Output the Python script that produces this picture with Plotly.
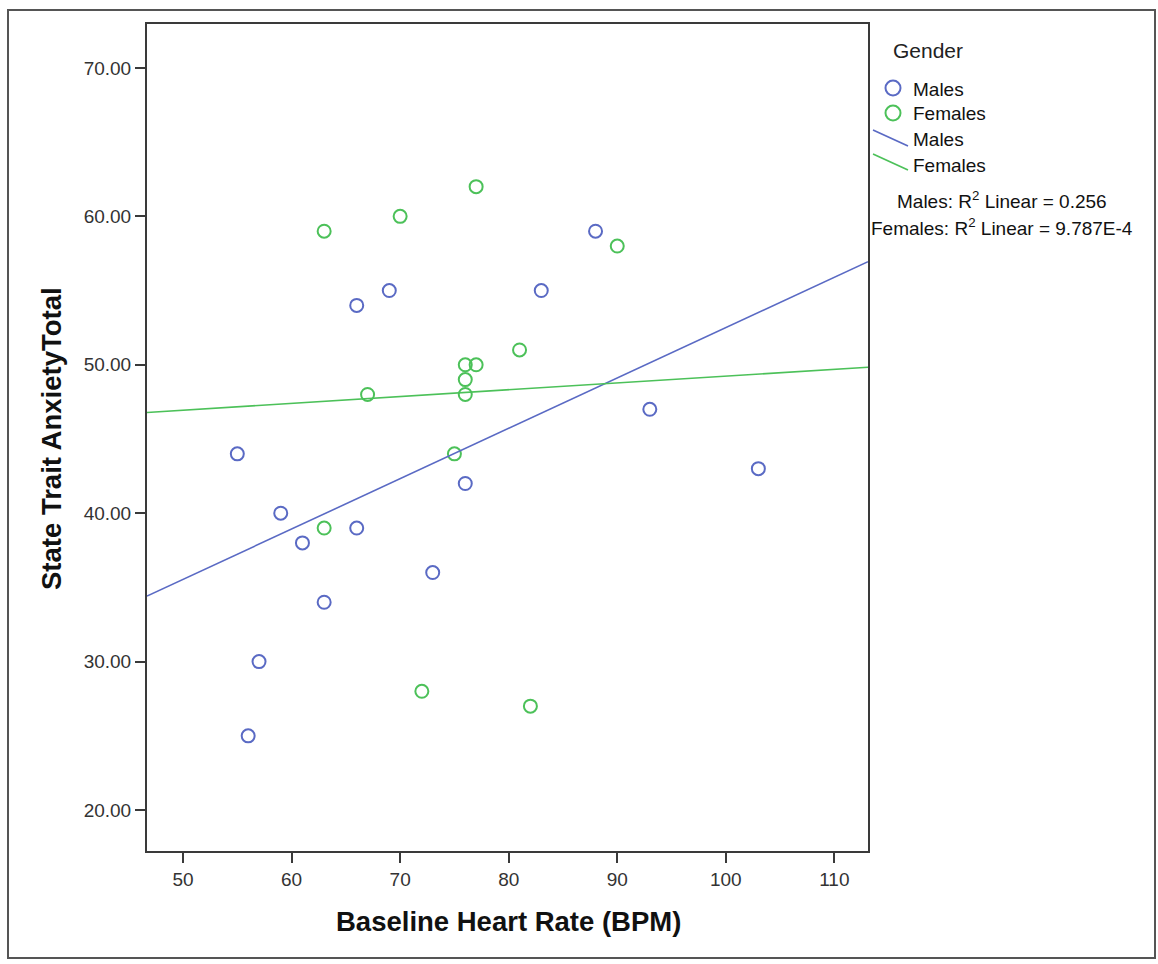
import numpy as np
import plotly.graph_objects as go

# Baseline heart rate (BPM) and State Trait Anxiety total, by gender
males_hr = [55, 56, 57, 59, 61, 63, 66, 66, 69, 73, 76, 83, 88, 93, 103]
males_anx = [44, 25, 30, 40, 38, 34, 54, 39, 55, 36, 42, 55, 59, 47, 43]

females_hr = [63, 63, 67, 70, 72, 75, 76, 76, 76, 77, 77, 81, 82, 90]
females_anx = [59, 39, 48, 60, 28, 44, 50, 49, 48, 50, 62, 51, 27, 58]

x_ticks = [50, 60, 70, 80, 90, 100, 110]
y_ticks = [20, 30, 40, 50, 60, 70]
x_range = [46.68, 113.1]
y_range = [17.24, 72.96]

r2_labels = ["Males: R<sup>2</sup> Linear = 0.256",
             "Females: R<sup>2</sup> Linear = 9.787E-4"]

BLUE = "#5a6ac4"
GREEN = "#4cc159"
AXIS = "#3a3a3a"
FONT = "Arial, Liberation Sans, sans-serif"

# figure geometry (pixels)
FIG_W, FIG_H = 1158, 964
L, R, T, B = 147, 290, 24, 113
PW, PH = FIG_W - L - R, FIG_H - T - B


def px(xp):
    return (xp - L) / PW


def py(yp):
    return (FIG_H - B - yp) / PH


fig = go.Figure()


def fit_line(xs, ys):
    slope, intercept = np.polyfit(xs, ys, 1)
    xx = np.array(x_range)
    return xx, slope * xx + intercept


# scatter points
fig.add_trace(go.Scatter(
    x=males_hr, y=males_anx, mode="markers", name="Males",
    marker=dict(symbol="circle-open", size=13, color=BLUE, line=dict(width=2, color=BLUE)),
    cliponaxis=True))
fig.add_trace(go.Scatter(
    x=females_hr, y=females_anx, mode="markers", name="Females",
    marker=dict(symbol="circle-open", size=13, color=GREEN, line=dict(width=2, color=GREEN)),
    cliponaxis=True))

# linear fit lines
mx, my = fit_line(males_hr, males_anx)
fx, fy = fit_line(females_hr, females_anx)
fig.add_trace(go.Scatter(x=mx, y=my, mode="lines", name="Males",
                         line=dict(color=BLUE, width=1.6)))
fig.add_trace(go.Scatter(x=fx, y=fy, mode="lines", name="Females",
                         line=dict(color=GREEN, width=1.6)))

axis_common = dict(
    showline=True, linecolor=AXIS, linewidth=2, mirror=True,
    ticks="outside", ticklen=10, tickwidth=2, tickcolor=AXIS,
    showgrid=False, zeroline=False,
    tickfont=dict(family=FONT, size=19, color="#333333"),
)

fig.update_xaxes(range=x_range, tickvals=x_ticks, **axis_common)
fig.update_yaxes(range=y_range, tickvals=y_ticks, tickformat=".2f", **axis_common)

annotations = [
    dict(text="<b>Baseline Heart Rate (BPM)</b>", x=px(508), y=py(922),
         font=dict(family=FONT, size=27.5, color="#111111")),
    dict(text="<b>State Trait AnxietyTotal</b>", x=px(52), y=py(439), textangle=-90,
         font=dict(family=FONT, size=27.5, color="#111111")),
    dict(text="Gender", x=px(891), y=py(50), xanchor="left",
         font=dict(family=FONT, size=21, color="#222222")),
    dict(text="Males", x=px(911), y=py(89), xanchor="left",
         font=dict(family=FONT, size=19, color="#111111")),
    dict(text="Females", x=px(911), y=py(114), xanchor="left",
         font=dict(family=FONT, size=19, color="#111111")),
    dict(text="Males", x=px(911), y=py(140), xanchor="left",
         font=dict(family=FONT, size=19, color="#111111")),
    dict(text="Females", x=px(911), y=py(165), xanchor="left",
         font=dict(family=FONT, size=19, color="#111111")),
    dict(text=r2_labels[0], x=px(1002), y=py(200), xanchor="center",
         font=dict(family=FONT, size=19, color="#111111")),
    dict(text=r2_labels[1], x=px(1002), y=py(227), xanchor="center",
         font=dict(family=FONT, size=19, color="#111111")),
]
for a in annotations:
    a.update(xref="paper", yref="paper", showarrow=False,
             xanchor=a.get("xanchor", "center"), yanchor="middle")

shapes = [
    # outer frame
    dict(type="rect", x0=px(8), x1=px(1155), y0=py(958), y1=py(10),
         line=dict(color="#555555", width=2), layer="below"),
    # legend symbols
    dict(type="circle", x0=px(885.5), x1=px(900.5), y0=py(95.5), y1=py(80.5),
         line=dict(color=BLUE, width=2)),
    dict(type="circle", x0=px(885.5), x1=px(900.5), y0=py(120.5), y1=py(105.5),
         line=dict(color=GREEN, width=2)),
    dict(type="line", x0=px(873), x1=px(908), y0=py(130), y1=py(146),
         line=dict(color=BLUE, width=1.6)),
    dict(type="line", x0=px(873), x1=px(908), y0=py(154), y1=py(170),
         line=dict(color=GREEN, width=1.6)),
]
for s in shapes:
    s.update(xref="paper", yref="paper")

fig.update_layout(
    width=FIG_W, height=FIG_H,
    margin=dict(l=L, r=R, t=T, b=B),
    paper_bgcolor="white", plot_bgcolor="white",
    showlegend=False,
    annotations=annotations,
    shapes=shapes,
    font=dict(family=FONT),
)

fig.write_html("out.html")
